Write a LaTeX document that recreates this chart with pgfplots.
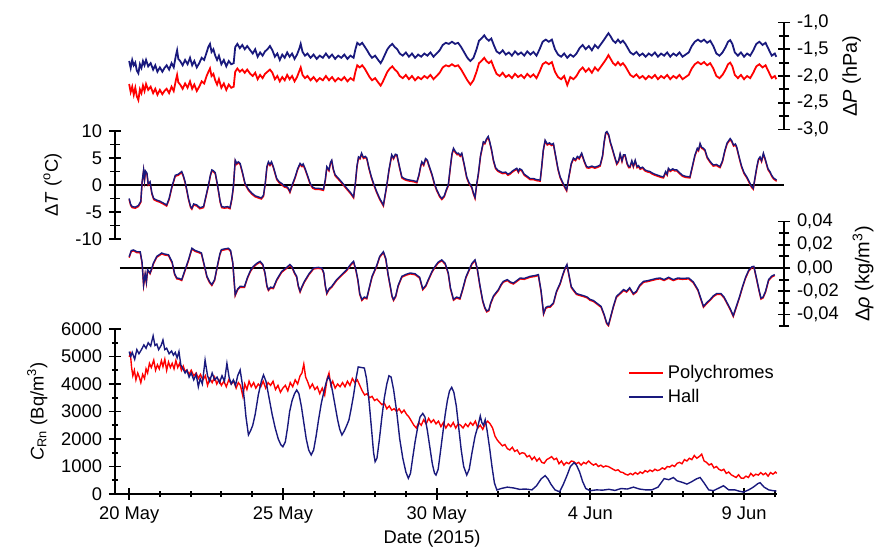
\documentclass[border=0pt]{standalone}
\usepackage{fontspec}
\setmainfont{Liberation Sans}
\usepackage{pgfplots}
\usepackage{pgfplotstable}
\pgfplotsset{compat=1.18}
\definecolor{navy}{RGB}{25,25,125}
\definecolor{rred}{RGB}{255,0,0}

\pgfplotstableread{
d Pb Pr
0.00 -1.72 -2.15
0.05 -1.85 -2.30
0.10 -1.70 -2.20
0.15 -1.80 -2.35
0.20 -1.75 -2.22
0.25 -1.90 -2.38
0.30 -1.95 -2.45
0.35 -1.78 -2.25
0.40 -1.85 -2.32
0.45 -1.72 -2.18
0.50 -1.80 -2.28
0.55 -1.70 -2.15
0.62 -1.82 -2.26
0.70 -1.76 -2.20
0.78 -1.88 -2.32
0.85 -1.80 -2.24
0.92 -1.92 -2.35
1.00 -1.84 -2.26
1.08 -1.92 -2.34
1.15 -1.85 -2.28
1.22 -1.80 -2.24
1.30 -1.88 -2.32
1.38 -1.76 -2.20
1.45 -1.84 -2.28
1.52 -1.62 -2.08
1.56 -1.52 -1.98
1.60 -1.68 -2.12
1.66 -1.72 -2.16
1.74 -1.80 -2.24
1.82 -1.70 -2.14
1.90 -1.78 -2.22
1.98 -1.66 -2.10
2.05 -1.80 -2.24
2.12 -1.72 -2.16
2.20 -1.84 -2.28
2.28 -1.76 -2.20
2.36 -1.66 -2.10
2.44 -1.70 -2.14
2.52 -1.56 -2.00
2.58 -1.45 -1.92
2.63 -1.40 -1.86
2.68 -1.55 -2.00
2.74 -1.50 -1.96
2.80 -1.62 -2.08
2.86 -1.70 -2.16
2.92 -1.62 -2.06
3.00 -1.78 -2.22
3.08 -1.70 -2.14
3.16 -1.82 -2.26
3.24 -1.72 -2.16
3.32 -1.78 -2.22
3.40 -1.76 -2.20
3.45 -1.46 -1.92
3.52 -1.40 -1.86
3.60 -1.48 -1.92
3.68 -1.42 -1.88
3.76 -1.50 -1.94
3.84 -1.44 -1.88
3.94 -1.52 -1.96
4.02 -1.58 -2.00
4.10 -1.50 -1.94
4.18 -1.64 -2.06
4.26 -1.56 -1.98
4.34 -1.62 -2.04
4.42 -1.54 -1.96
4.50 -1.50 -1.92
4.58 -1.44 -1.88
4.66 -1.52 -1.94
4.74 -1.64 -2.06
4.82 -1.58 -2.00
4.90 -1.70 -2.10
4.98 -1.60 -2.02
5.06 -1.66 -2.08
5.14 -1.56 -1.98
5.22 -1.64 -2.06
5.30 -1.58 -2.00
5.38 -1.68 -2.10
5.46 -1.60 -2.02
5.54 -1.48 -1.90
5.58 -1.40 -1.84
5.64 -1.55 -1.98
5.72 -1.62 -2.04
5.80 -1.58 -2.00
5.90 -1.66 -2.08
6.00 -1.60 -2.02
6.10 -1.68 -2.10
6.20 -1.62 -2.04
6.30 -1.66 -2.08
6.40 -1.58 -2.00
6.50 -1.66 -2.08
6.60 -1.60 -2.02
6.70 -1.68 -2.10
6.80 -1.62 -2.04
6.90 -1.66 -2.08
7.00 -1.60 -2.02
7.10 -1.68 -2.10
7.20 -1.62 -2.04
7.30 -1.66 -2.08
7.36 -1.50 -1.92
7.42 -1.38 -1.80
7.50 -1.42 -1.84
7.58 -1.38 -1.80
7.66 -1.45 -1.86
7.74 -1.52 -1.94
7.82 -1.60 -2.02
7.90 -1.66 -2.08
8.00 -1.62 -2.04
8.10 -1.70 -2.12
8.18 -1.76 -2.18
8.24 -1.70 -2.12
8.32 -1.60 -2.02
8.40 -1.50 -1.92
8.48 -1.44 -1.86
8.56 -1.40 -1.82
8.64 -1.46 -1.88
8.72 -1.50 -1.92
8.80 -1.58 -2.00
8.90 -1.62 -2.04
9.00 -1.56 -1.98
9.10 -1.64 -2.06
9.20 -1.58 -2.00
9.30 -1.66 -2.08
9.40 -1.60 -2.02
9.50 -1.64 -2.06
9.60 -1.58 -2.00
9.70 -1.62 -2.04
9.80 -1.56 -1.98
9.90 -1.64 -2.06
10.00 -1.58 -2.00
10.10 -1.52 -1.94
10.20 -1.42 -1.84
10.30 -1.38 -1.80
10.40 -1.40 -1.82
10.50 -1.36 -1.78
10.60 -1.40 -1.82
10.70 -1.38 -1.80
10.80 -1.46 -1.88
10.90 -1.56 -1.98
11.00 -1.66 -2.08
11.10 -1.72 -2.16
11.20 -1.66 -2.08
11.30 -1.50 -1.92
11.38 -1.34 -1.76
11.46 -1.30 -1.72
11.55 -1.24 -1.66
11.62 -1.30 -1.72
11.70 -1.34 -1.76
11.78 -1.30 -1.72
11.86 -1.42 -1.84
11.95 -1.54 -1.96
12.05 -1.58 -2.00
12.15 -1.52 -1.94
12.25 -1.60 -2.02
12.35 -1.56 -1.98
12.45 -1.62 -2.04
12.55 -1.54 -1.96
12.65 -1.60 -2.02
12.75 -1.56 -1.98
12.85 -1.62 -2.04
12.95 -1.54 -1.96
13.05 -1.60 -2.02
13.15 -1.55 -1.97
13.25 -1.62 -2.04
13.35 -1.50 -1.92
13.45 -1.36 -1.78
13.55 -1.32 -1.74
13.65 -1.36 -1.78
13.75 -1.32 -1.74
13.85 -1.50 -1.92
13.95 -1.60 -2.02
14.05 -1.64 -2.06
14.15 -1.58 -2.00
14.25 -1.66 -2.17
14.35 -1.60 -2.02
14.45 -1.64 -2.06
14.55 -1.58 -2.00
14.65 -1.48 -1.90
14.75 -1.42 -1.84
14.85 -1.50 -1.92
14.95 -1.44 -1.86
15.05 -1.52 -1.94
15.15 -1.42 -1.84
15.25 -1.48 -1.90
15.35 -1.40 -1.82
15.45 -1.32 -1.74
15.52 -1.26 -1.68
15.59 -1.20 -1.61
15.66 -1.26 -1.68
15.74 -1.34 -1.76
15.82 -1.38 -1.80
15.90 -1.32 -1.74
15.98 -1.38 -1.80
16.06 -1.34 -1.76
16.14 -1.40 -1.82
16.22 -1.48 -1.90
16.30 -1.56 -1.98
16.40 -1.60 -2.02
16.50 -1.55 -1.97
16.60 -1.62 -2.04
16.70 -1.58 -2.00
16.80 -1.64 -2.06
16.90 -1.58 -2.00
17.00 -1.62 -2.04
17.10 -1.56 -1.98
17.20 -1.64 -2.06
17.30 -1.58 -2.00
17.40 -1.62 -2.04
17.50 -1.56 -1.98
17.60 -1.64 -2.06
17.70 -1.58 -2.00
17.80 -1.62 -2.04
17.90 -1.56 -1.98
18.00 -1.64 -2.06
18.10 -1.60 -2.02
18.20 -1.56 -1.98
18.30 -1.44 -1.86
18.40 -1.36 -1.78
18.50 -1.32 -1.74
18.60 -1.36 -1.78
18.70 -1.32 -1.74
18.80 -1.38 -1.80
18.90 -1.34 -1.76
19.00 -1.44 -1.86
19.10 -1.58 -2.00
19.20 -1.62 -2.04
19.30 -1.56 -1.98
19.40 -1.46 -1.88
19.48 -1.36 -1.78
19.55 -1.33 -1.75
19.62 -1.40 -1.82
19.70 -1.56 -1.98
19.80 -1.62 -2.04
19.90 -1.56 -1.98
20.00 -1.64 -2.06
20.10 -1.58 -2.00
20.20 -1.62 -2.04
20.30 -1.52 -1.94
20.40 -1.40 -1.82
20.50 -1.36 -1.78
20.60 -1.42 -1.84
20.70 -1.38 -1.80
20.80 -1.50 -1.92
20.90 -1.62 -2.04
21.00 -1.58 -2.00
21.05 -1.64 -2.06
}\tabP

\pgfplotstableread{
d Tb Tr
0.00 -2.5 -2.7
0.05 -3.6 -3.8
0.10 -4.0 -4.2
0.20 -4.1 -4.3
0.30 -3.8 -4.0
0.38 -3.0 -3.2
0.42 0.5 0.3
0.47 2.8 2.6
0.50 1.0 0.8
0.53 2.6 2.4
0.58 2.2 2.0
0.62 0.2 0.0
0.68 0.6 0.4
0.74 -1.5 -1.7
0.80 -2.5 -2.7
0.90 -2.8 -3.0
1.00 -3.0 -3.2
1.10 -3.3 -3.5
1.22 -3.7 -3.9
1.30 -2.5 -2.7
1.39 -0.3 -0.5
1.50 1.8 1.6
1.60 2.0 1.8
1.71 2.5 2.3
1.76 1.8 1.6
1.82 0.6 0.4
1.88 -1.0 -1.2
1.93 -2.5 -2.7
2.00 -4.0 -4.2
2.04 -4.3 -4.5
2.10 -3.5 -3.7
2.20 -3.7 -3.9
2.30 -4.2 -4.4
2.42 -4.0 -4.2
2.50 -2.0 -2.2
2.58 0.0 -0.2
2.64 1.8 1.6
2.69 2.8 2.6
2.75 2.6 2.4
2.80 2.3 2.1
2.86 0.5 0.3
2.91 -1.2 -1.4
2.96 -3.0 -3.2
3.01 -4.0 -4.2
3.10 -4.1 -4.3
3.20 -4.0 -4.2
3.28 -4.2 -4.4
3.34 -2.5 -2.7
3.39 -0.3 -0.5
3.45 4.6 4.4
3.50 4.0 3.8
3.55 4.3 4.1
3.61 4.0 3.8
3.68 2.5 2.3
3.77 0.3 0.1
3.88 -0.8 -1.0
3.99 -1.5 -1.7
4.10 -2.0 -2.2
4.20 -2.2 -2.4
4.30 -2.4 -2.6
4.37 -1.9 -2.1
4.43 0.5 0.3
4.48 3.4 3.2
4.53 4.3 4.1
4.58 3.8 3.6
4.63 4.3 4.1
4.69 3.4 3.2
4.75 2.2 2.0
4.80 1.2 1.0
4.88 0.6 0.4
4.96 0.3 0.1
5.05 -0.2 -0.4
5.13 -0.3 -0.5
5.18 -0.6 -0.8
5.23 -1.2 -1.4
5.30 0.0 -0.2
5.40 1.5 1.3
5.48 3.0 2.8
5.56 4.0 3.8
5.62 3.6 3.4
5.66 3.9 3.7
5.72 3.1 2.9
5.80 1.8 1.6
5.89 0.3 0.1
5.97 -0.4 -0.6
6.05 -0.6 -0.8
6.15 -0.6 -0.8
6.25 -0.7 -0.9
6.32 -0.8 -1.0
6.38 1.0 0.8
6.43 3.4 3.2
6.50 2.8 2.6
6.55 4.2 4.0
6.59 4.6 4.4
6.64 3.0 2.8
6.70 1.9 1.7
6.78 1.4 1.2
6.86 0.9 0.7
6.95 0.3 0.1
7.08 -0.6 -0.8
7.20 -1.4 -1.6
7.30 -2.2 -2.4
7.36 0.5 0.3
7.41 3.5 3.3
7.46 5.2 5.0
7.51 5.0 4.8
7.56 5.9 5.7
7.62 5.1 4.9
7.68 5.3 5.1
7.73 5.0 4.8
7.80 3.2 3.0
7.88 1.5 1.3
7.95 0.3 0.1
8.05 -1.2 -1.4
8.15 -2.5 -2.7
8.27 -3.7 -3.9
8.32 -2.0 -2.2
8.38 0.0 -0.2
8.45 2.8 2.6
8.54 5.6 5.4
8.60 5.0 4.8
8.66 5.7 5.5
8.71 5.6 5.4
8.79 3.5 3.3
8.87 1.5 1.3
8.95 1.2 1.0
9.05 1.0 0.8
9.14 0.9 0.7
9.25 0.8 0.6
9.36 0.6 0.4
9.43 2.0 1.8
9.48 3.5 3.3
9.52 4.3 4.1
9.58 3.8 3.6
9.64 4.9 4.7
9.70 4.6 4.4
9.76 3.5 3.3
9.85 2.0 1.8
9.93 0.3 0.1
10.00 -0.8 -1.0
10.10 -2.0 -2.2
10.17 -2.5 -2.7
10.25 -2.0 -2.2
10.32 -0.8 -1.0
10.38 0.0 -0.2
10.45 3.5 3.3
10.50 5.8 5.6
10.55 6.8 6.6
10.61 6.2 6.0
10.67 5.8 5.6
10.71 5.9 5.7
10.77 5.5 5.3
10.82 5.9 5.7
10.90 3.8 3.6
10.98 1.5 1.3
11.05 0.5 0.3
11.14 -0.3 -0.5
11.20 -1.5 -1.7
11.25 -2.3 -2.5
11.30 0.0 -0.2
11.36 2.2 2.0
11.43 5.5 5.3
11.52 8.0 7.8
11.57 7.8 7.6
11.62 8.5 8.3
11.68 9.0 8.8
11.73 8.0 7.8
11.79 6.5 6.3
11.85 4.6 4.4
11.92 3.2 3.0
12.00 2.7 2.5
12.07 2.5 2.3
12.15 2.3 2.1
12.25 2.4 2.2
12.32 2.0 1.8
12.39 2.2 2.0
12.47 2.6 2.4
12.55 2.9 2.7
12.61 3.1 2.9
12.66 2.5 2.3
12.70 3.0 2.8
12.77 2.8 2.6
12.85 2.0 1.8
12.95 1.6 1.4
13.04 1.2 1.0
13.15 1.2 1.0
13.25 1.0 0.8
13.37 0.9 0.7
13.42 3.5 3.3
13.47 6.5 6.3
13.53 8.3 8.1
13.60 7.6 7.4
13.67 7.8 7.6
13.74 7.5 7.3
13.80 7.7 7.5
13.87 5.5 5.3
13.95 3.0 2.8
14.02 1.5 1.3
14.10 0.5 0.3
14.17 -0.3 -0.5
14.23 -0.9 -1.1
14.30 1.5 1.3
14.38 4.0 3.8
14.45 5.0 4.8
14.52 4.7 4.5
14.58 5.3 5.1
14.64 5.0 4.8
14.72 5.9 5.7
14.80 4.5 4.3
14.88 3.4 3.2
14.95 3.3 3.1
15.05 3.5 3.3
15.15 3.3 3.1
15.25 3.5 3.3
15.32 3.7 3.5
15.40 5.5 5.3
15.45 8.0 7.8
15.50 9.7 9.5
15.54 9.9 9.7
15.60 9.3 9.1
15.65 8.0 7.8
15.70 7.1 6.9
15.78 5.5 5.3
15.86 4.0 3.8
15.92 4.5 4.3
15.97 5.8 5.6
16.03 4.5 4.3
16.08 5.6 5.4
16.13 5.6 5.4
16.20 4.0 3.8
16.25 3.4 3.2
16.29 3.4 3.2
16.35 4.5 4.3
16.40 3.5 3.3
16.46 4.6 4.4
16.52 3.4 3.2
16.57 3.6 3.4
16.62 3.1 2.9
16.70 3.3 3.1
16.78 2.8 2.6
16.86 2.6 2.4
16.94 2.5 2.3
17.02 2.2 2.0
17.10 2.0 1.8
17.20 1.8 1.6
17.30 1.6 1.4
17.38 1.5 1.3
17.45 2.5 2.3
17.50 2.0 1.8
17.54 3.1 2.9
17.60 2.7 2.5
17.68 3.0 2.8
17.74 2.8 2.6
17.81 2.8 2.6
17.90 2.3 2.1
18.00 1.8 1.6
18.10 1.6 1.4
18.24 1.5 1.3
18.32 3.5 3.3
18.40 5.5 5.3
18.48 6.8 6.6
18.52 6.5 6.3
18.57 7.7 7.5
18.62 7.0 6.8
18.68 6.8 6.6
18.73 6.5 6.3
18.80 5.2 5.0
18.88 4.5 4.3
18.95 4.0 3.8
19.00 3.7 3.5
19.10 3.8 3.6
19.22 3.4 3.2
19.30 4.5 4.3
19.38 6.5 6.3
19.45 7.8 7.6
19.50 8.2 8.0
19.55 8.6 8.4
19.60 8.2 8.0
19.66 7.4 7.2
19.72 7.6 7.4
19.76 7.1 6.9
19.85 5.0 4.8
19.92 3.5 3.3
20.00 2.3 2.1
20.09 1.5 1.3
20.18 0.5 0.3
20.24 -0.2 -0.4
20.30 -0.6 -0.8
20.36 1.5 1.3
20.42 3.5 3.3
20.47 4.8 4.6
20.52 5.2 5.0
20.57 4.5 4.3
20.63 5.9 5.7
20.68 5.0 4.8
20.72 4.2 4.0
20.78 3.0 2.8
20.84 2.5 2.3
20.90 1.8 1.6
20.96 1.3 1.1
21.06 0.9 0.7
}\tabT

\pgfplotstableread{
d Rb Rr
0.00 0.0097 0.0089
0.07 0.0150 0.0142
0.14 0.0155 0.0147
0.25 0.0140 0.0132
0.36 0.0140 0.0132
0.42 0.0050 0.0042
0.47 -0.0143 -0.0151
0.52 -0.0050 -0.0058
0.56 -0.0120 -0.0128
0.60 -0.0014 -0.0022
0.68 -0.0043 -0.0051
0.74 0.0000 -0.0008
0.79 0.0043 0.0035
0.90 0.0100 0.0092
1.06 0.0129 0.0121
1.15 0.0120 0.0112
1.28 0.0114 0.0106
1.40 0.0050 0.0042
1.48 -0.0050 -0.0058
1.55 -0.0086 -0.0094
1.63 -0.0090 -0.0098
1.71 -0.0100 -0.0108
1.80 -0.0030 -0.0038
1.93 0.0070 0.0062
2.04 0.0170 0.0162
2.15 0.0150 0.0142
2.26 0.0140 0.0132
2.35 0.0130 0.0122
2.45 0.0020 0.0012
2.53 -0.0072 -0.0080
2.62 -0.0120 -0.0128
2.69 -0.0143 -0.0151
2.78 -0.0100 -0.0108
2.87 0.0020 0.0012
2.95 0.0120 0.0112
3.00 0.0158 0.0150
3.12 0.0165 0.0157
3.23 0.0170 0.0162
3.30 0.0150 0.0142
3.37 0.0050 0.0042
3.45 -0.0230 -0.0238
3.53 -0.0180 -0.0188
3.61 -0.0158 -0.0166
3.75 -0.0160 -0.0168
3.85 -0.0080 -0.0088
3.95 -0.0020 -0.0028
4.04 0.0014 0.0006
4.15 0.0040 0.0032
4.26 0.0057 0.0049
4.35 0.0030 0.0022
4.42 -0.0043 -0.0051
4.48 -0.0150 -0.0158
4.53 -0.0186 -0.0194
4.60 -0.0165 -0.0173
4.69 -0.0170 -0.0178
4.80 -0.0100 -0.0108
4.96 -0.0030 -0.0038
5.10 0.0000 -0.0008
5.23 0.0030 0.0022
5.30 0.0010 0.0002
5.38 -0.0040 -0.0048
5.45 -0.0072 -0.0080
5.50 -0.0150 -0.0158
5.56 -0.0200 -0.0208
5.62 -0.0160 -0.0168
5.70 -0.0115 -0.0123
5.85 -0.0050 -0.0058
6.00 0.0000 -0.0008
6.15 0.0005 -0.0003
6.27 0.0000 -0.0008
6.33 -0.0040 -0.0048
6.38 -0.0150 -0.0158
6.43 -0.0215 -0.0223
6.50 -0.0180 -0.0188
6.59 -0.0158 -0.0166
6.75 -0.0100 -0.0108
6.90 -0.0060 -0.0068
7.08 -0.0014 -0.0022
7.20 0.0030 0.0022
7.30 0.0057 0.0049
7.38 -0.0020 -0.0028
7.44 -0.0100 -0.0108
7.50 -0.0220 -0.0228
7.57 -0.0272 -0.0280
7.65 -0.0250 -0.0258
7.73 -0.0258 -0.0266
7.80 -0.0180 -0.0188
7.90 -0.0072 -0.0080
8.05 0.0020 0.0012
8.15 0.0100 0.0092
8.27 0.0140 0.0132
8.35 0.0080 0.0072
8.42 -0.0050 -0.0058
8.49 -0.0150 -0.0158
8.55 -0.0240 -0.0248
8.60 -0.0272 -0.0280
8.67 -0.0240 -0.0248
8.75 -0.0150 -0.0158
8.87 -0.0072 -0.0080
9.00 -0.0055 -0.0063
9.14 -0.0043 -0.0051
9.30 -0.0050 -0.0058
9.45 -0.0080 -0.0088
9.55 -0.0180 -0.0188
9.65 -0.0150 -0.0158
9.73 -0.0100 -0.0108
9.85 -0.0030 -0.0038
9.95 0.0014 0.0006
10.05 0.0050 0.0042
10.17 0.0070 0.0062
10.28 0.0040 0.0032
10.38 -0.0043 -0.0051
10.45 -0.0170 -0.0178
10.55 -0.0270 -0.0278
10.65 -0.0250 -0.0258
10.76 -0.0260 -0.0268
10.85 -0.0180 -0.0188
10.95 -0.0080 -0.0088
11.03 -0.0030 -0.0038
11.15 0.0040 0.0032
11.25 0.0070 0.0062
11.32 0.0000 -0.0008
11.41 -0.0150 -0.0158
11.50 -0.0280 -0.0288
11.57 -0.0340 -0.0348
11.63 -0.0370 -0.0378
11.70 -0.0360 -0.0368
11.76 -0.0300 -0.0308
11.85 -0.0240 -0.0248
12.01 -0.0186 -0.0194
12.10 -0.0140 -0.0148
12.17 -0.0115 -0.0123
12.30 -0.0100 -0.0108
12.40 -0.0120 -0.0128
12.50 -0.0130 -0.0138
12.60 -0.0110 -0.0118
12.72 -0.0086 -0.0094
12.85 -0.0090 -0.0098
13.04 -0.0072 -0.0080
13.20 -0.0065 -0.0073
13.31 -0.0057 -0.0065
13.40 -0.0200 -0.0208
13.48 -0.0390 -0.0398
13.55 -0.0340 -0.0348
13.62 -0.0330 -0.0338
13.69 -0.0330 -0.0338
13.80 -0.0300 -0.0308
13.90 -0.0200 -0.0208
14.02 -0.0130 -0.0138
14.10 -0.0060 -0.0068
14.18 0.0000 -0.0008
14.24 0.0030 0.0022
14.30 -0.0050 -0.0058
14.38 -0.0160 -0.0168
14.45 -0.0186 -0.0194
14.55 -0.0220 -0.0228
14.67 -0.0230 -0.0238
14.80 -0.0240 -0.0248
14.90 -0.0250 -0.0258
14.99 -0.0270 -0.0278
15.10 -0.0280 -0.0288
15.20 -0.0300 -0.0308
15.35 -0.0330 -0.0338
15.45 -0.0400 -0.0408
15.53 -0.0470 -0.0478
15.59 -0.0490 -0.0498
15.66 -0.0420 -0.0428
15.75 -0.0330 -0.0338
15.85 -0.0244 -0.0252
15.95 -0.0220 -0.0228
16.08 -0.0186 -0.0194
16.18 -0.0200 -0.0208
16.28 -0.0170 -0.0178
16.40 -0.0220 -0.0228
16.50 -0.0200 -0.0208
16.60 -0.0150 -0.0158
16.73 -0.0115 -0.0123
16.85 -0.0110 -0.0118
17.00 -0.0100 -0.0108
17.15 -0.0090 -0.0098
17.27 -0.0086 -0.0094
17.40 -0.0100 -0.0108
17.55 -0.0080 -0.0088
17.70 -0.0100 -0.0108
17.85 -0.0086 -0.0094
18.00 -0.0090 -0.0098
18.20 -0.0086 -0.0094
18.35 -0.0120 -0.0128
18.50 -0.0186 -0.0194
18.58 -0.0250 -0.0258
18.68 -0.0330 -0.0338
18.78 -0.0300 -0.0308
18.90 -0.0270 -0.0278
19.00 -0.0240 -0.0248
19.11 -0.0220 -0.0228
19.25 -0.0220 -0.0228
19.35 -0.0250 -0.0258
19.45 -0.0300 -0.0308
19.55 -0.0350 -0.0358
19.65 -0.0410 -0.0418
19.75 -0.0330 -0.0338
19.85 -0.0250 -0.0258
19.95 -0.0160 -0.0168
20.05 -0.0080 -0.0088
20.15 -0.0020 -0.0028
20.25 0.0010 0.0002
20.32 0.0014 0.0006
20.40 -0.0080 -0.0088
20.48 -0.0180 -0.0188
20.55 -0.0260 -0.0268
20.62 -0.0250 -0.0258
20.70 -0.0200 -0.0208
20.80 -0.0100 -0.0108
20.90 -0.0070 -0.0078
21.00 -0.0057 -0.0065
}\tabR

\pgfplotstableread{
d C
0.00 5175
0.05 5000
0.10 5150
0.18 4900
0.25 5250
0.32 5100
0.40 5250
0.48 5420
0.55 5300
0.62 5500
0.70 5380
0.78 5750
0.84 5400
0.90 5450
0.96 5250
1.04 5400
1.10 5600
1.16 5250
1.22 5300
1.30 5100
1.38 5200
1.44 5050
1.50 5150
1.56 4950
1.62 5180
1.68 4700
1.75 4550
1.82 4400
1.88 4500
1.95 4250
2.02 4400
2.10 4150
2.18 4350
2.25 3900
2.31 4200
2.38 4000
2.47 4870
2.55 4300
2.62 4100
2.70 4400
2.78 4150
2.86 4250
2.94 4050
3.02 4300
3.10 4100
3.18 4750
3.25 4250
3.32 4000
3.39 4150
3.46 3950
3.53 4300
3.61 4510
3.68 4000
3.74 3500
3.80 2800
3.88 2150
3.95 2300
4.02 2500
4.10 2900
4.20 3600
4.30 4100
4.37 4330
4.45 4100
4.55 3500
4.65 2900
4.75 2400
4.85 2000
4.93 1800
5.00 1720
5.08 1900
5.15 2400
5.22 3000
5.30 3400
5.38 3650
5.45 3780
5.52 3650
5.60 3200
5.68 2600
5.76 2000
5.84 1600
5.92 1420
6.00 1600
6.08 2100
6.16 2700
6.25 3300
6.35 3800
6.42 4100
6.48 4270
6.55 4100
6.62 3700
6.70 3200
6.78 2700
6.85 2350
6.92 2145
7.00 2300
7.08 2500
7.15 2700
7.22 3100
7.30 3600
7.38 4200
7.45 4620
7.55 4600
7.65 4580
7.72 4200
7.80 3400
7.88 2400
7.95 1500
8.00 1175
8.06 1300
8.14 2000
8.22 2800
8.30 3500
8.38 4000
8.45 4300
8.52 4250
8.60 3800
8.70 3000
8.80 2000
8.90 1300
9.00 800
9.08 570
9.15 750
9.22 1300
9.30 1900
9.38 2400
9.46 2800
9.55 2930
9.62 2800
9.70 2300
9.78 1700
9.86 1100
9.93 760
9.98 690
10.05 900
10.12 1500
10.20 2200
10.28 2900
10.35 3400
10.42 3750
10.49 3880
10.56 3700
10.64 3200
10.72 2400
10.80 1600
10.88 1000
10.98 690
11.06 900
11.15 1500
11.25 2100
11.35 2500
11.42 2836
11.47 2600
11.52 2500
11.58 2700
11.64 2320
11.72 1700
11.80 1000
11.88 400
11.96 145
12.10 200
12.30 250
12.50 220
12.70 170
12.90 180
13.10 150
13.25 300
13.40 550
13.53 667
13.62 550
13.72 350
13.85 150
14.00 80
14.12 350
14.25 700
14.35 1000
14.47 1140
14.55 1050
14.65 800
14.75 450
14.85 200
14.99 120
15.20 150
15.40 140
15.60 170
15.80 130
16.00 200
16.20 180
16.40 250
16.60 180
16.80 150
17.00 150
17.20 250
17.40 560
17.55 520
17.70 600
17.82 480
18.00 420
18.14 360
18.30 450
18.45 550
18.57 600
18.70 400
18.85 150
19.00 120
19.15 200
19.33 300
19.50 150
19.70 150
19.85 100
19.98 70
20.15 150
20.30 250
20.45 380
20.52 410
20.65 250
20.80 150
20.95 120
21.05 110
}\tabCb

\pgfplotstableread{
d C
0.00 4990
0.04 5100
0.08 4600
0.12 4300
0.17 4500
0.22 4150
0.28 4400
0.33 4250
0.38 4050
0.44 4350
0.50 4200
0.55 4550
0.60 4400
0.66 4750
0.72 4600
0.80 4870
0.86 4500
0.92 4700
0.98 4550
1.05 4850
1.10 4630
1.16 4900
1.22 4500
1.28 4800
1.34 4600
1.40 4750
1.46 4550
1.52 4850
1.58 4600
1.64 4750
1.70 4500
1.76 4650
1.82 4450
1.88 4510
1.95 4350
2.02 4500
2.10 4300
2.18 4400
2.25 4200
2.32 4350
2.40 4150
2.48 4300
2.55 3950
2.62 4200
2.70 4050
2.78 4250
2.85 4000
2.92 4150
3.00 3950
3.08 4100
3.16 3900
3.24 4150
3.32 4000
3.40 4100
3.48 3850
3.55 4050
3.62 3950
3.70 3550
3.76 4000
3.83 3800
3.90 4100
3.97 3900
4.05 4050
4.12 3850
4.20 4000
4.28 3900
4.36 4100
4.44 3850
4.52 4050
4.60 3950
4.68 4100
4.76 3800
4.84 3950
4.92 3700
5.00 3850
5.08 3950
5.16 3750
5.24 4050
5.32 3900
5.40 4150
5.48 4000
5.56 4300
5.62 4400
5.68 4720
5.74 4250
5.80 4100
5.88 3850
5.96 4000
6.04 3800
6.12 3900
6.20 3650
6.28 3850
6.36 3600
6.44 4200
6.50 4400
6.56 3950
6.62 4100
6.70 3850
6.78 4000
6.86 3900
6.94 4050
7.02 3900
7.10 4100
7.18 3950
7.26 4200
7.34 4050
7.42 4150
7.50 3950
7.58 3750
7.66 3600
7.74 3650
7.82 3500
7.90 3550
7.98 3400
8.06 3450
8.14 3350
8.22 3250
8.30 3300
8.38 3100
8.46 3200
8.54 3050
8.62 3100
8.70 3000
8.78 3100
8.86 2950
8.94 3050
9.02 2900
9.10 2800
9.18 2650
9.26 2500
9.34 2400
9.42 2600
9.50 2500
9.58 2700
9.66 2550
9.74 2750
9.82 2600
9.90 2700
9.98 2550
10.06 2650
10.14 2450
10.22 2600
10.30 2400
10.38 2550
10.46 2450
10.54 2600
10.62 2400
10.70 2550
10.78 2500
10.86 2400
10.94 2550
11.02 2450
11.10 2600
11.18 2500
11.26 2650
11.34 2400
11.42 2500
11.50 2350
11.58 2550
11.66 2650
11.74 2550
11.82 2400
11.90 2100
11.98 1950
12.06 1850
12.14 1750
12.22 1800
12.30 1650
12.38 1600
12.46 1700
12.54 1550
12.62 1600
12.70 1450
12.78 1500
12.86 1480
12.94 1350
13.02 1400
13.10 1250
13.18 1350
13.26 1200
13.34 1300
13.42 1150
13.50 1120
13.58 1250
13.66 1300
13.74 1360
13.82 1250
13.90 1300
13.98 1100
14.06 1200
14.14 1050
14.22 1150
14.30 1100
14.38 1200
14.46 1175
14.54 1100
14.62 1150
14.70 1050
14.78 1150
14.86 1100
14.94 1200
15.02 1115
15.10 1050
15.18 1100
15.26 1000
15.34 1050
15.42 980
15.50 1020
15.58 1000
15.66 950
15.74 900
15.82 850
15.90 880
15.98 800
16.06 780
16.14 720
16.22 690
16.30 750
16.38 700
16.46 780
16.54 720
16.62 800
16.70 750
16.78 850
16.86 800
16.94 870
17.02 820
17.10 900
17.18 850
17.26 880
17.34 950
17.42 900
17.50 1000
17.58 980
17.66 1050
17.74 1000
17.82 1115
17.90 1150
17.98 1100
18.06 1250
18.14 1200
18.22 1300
18.30 1250
18.38 1400
18.46 1300
18.54 1360
18.62 1450
18.70 1200
18.78 1150
18.86 1055
18.94 1100
19.02 950
19.10 1000
19.18 900
19.26 850
19.34 900
19.42 750
19.50 800
19.58 700
19.66 650
19.74 600
19.82 700
19.90 580
19.98 570
20.06 650
20.14 600
20.22 750
20.30 650
20.38 720
20.46 690
20.54 780
20.62 700
20.70 760
20.78 650
20.86 780
20.94 720
21.02 800
21.06 750
}\tabCr

\begin{document}
\begin{tikzpicture}
\pgfplotsset{
  base/.style={
    scale only axis, anchor=south west,
    xmin=-0.46,
    tick align=inside,
    major tick length=6bp, minor tick length=5bp,
    every tick/.style={black, line width=0.9pt},
    axis line style={-, line width=0.9pt, black},
    tick label style={font=\fontsize{9.2}{11}\selectfont},
    label style={font=\fontsize{9.2}{11}\selectfont},
    /pgf/number format/assume math mode=true,
    scaled y ticks=false,
  },
  noarrows/.style={
    every outer x axis line/.append style={-},
    every outer y axis line/.append style={-},
    every inner x axis line/.append style={-},
    every inner y axis line/.append style={-},
    axis line style={-},
  },
}
% Panel 1: Delta P
\begin{axis}[base, at={(57.5bp,210.25bp)}, width=334.5bp, height=53.5bp,
  xmax=21.30, ymin=-3, ymax=-1,
  axis x line=none, axis y line=right,
  ytick={-3,-2.5,-2,-1.5,-1}, minor y tick num=1,
  yticklabel style={/pgf/number format/.cd, fixed, fixed zerofill, precision=1, use comma},
  ylabel={Δ\textit{P} (hPa)}, noarrows]
\addplot[rred, line width=0.9pt] table[x=d, y=Pr] {\tabP};
\addplot[navy, line width=0.9pt] table[x=d, y=Pb] {\tabP};
\end{axis}
% Panel 2: Delta T
\begin{axis}[base, at={(57.5bp,155.5bp)}, width=334.5bp, height=54bp,
  xmax=21.30, ymin=-10, ymax=10,
  axis x line=none, axis y line=left,
  ytick={-10,-5,0,5,10}, minor y tick num=1,
  ylabel={Δ\textit{T} (\textsuperscript{o}C)}, noarrows]
\addplot[black, line width=0.9pt] coordinates {(-0.46,0) (21.30,0)};
\addplot[rred, line width=0.7pt] table[x=d, y=Tr] {\tabT};
\addplot[navy, line width=0.7pt] table[x=d, y=Tb] {\tabT};
\end{axis}
% Panel 3: Delta rho
\begin{axis}[base, at={(57.5bp,111.95bp)}, width=334.5bp, height=52.3bp,
  xmax=21.30, ymin=-0.05, ymax=0.04,
  axis x line=none, axis y line=right,
  ytick={-0.04,-0.02,0,0.02,0.04}, minor ytick={-0.05,-0.03,-0.01,0.01,0.03},
  yticklabel style={/pgf/number format/.cd, fixed, fixed zerofill, precision=2, use comma},
  ylabel={Δ\textit{ρ} (kg/m\textsuperscript{3})}, noarrows]
\addplot[black, line width=0.9pt] coordinates {(-0.3,0) (21.30,0)};
\addplot[rred, line width=0.7pt] table[x=d, y=Rr] {\tabR};
\addplot[navy, line width=0.7pt] table[x=d, y=Rb] {\tabR};
\end{axis}
% Panel 4: C_Rn
\begin{axis}[base, at={(57.5bp,28bp)}, width=331bp, height=82.5bp,
  xmax=21.07, ymin=0, ymax=6000,
  axis x line=bottom, axis y line=left,
  major tick length=6bp, minor tick length=3.2bp,
  xtick={0,5,10,15,20}, xticklabels={20 May,25 May,30 May,4 Jun,9 Jun},
  minor xtick={1,2,3,4,6,7,8,9,11,12,13,14,16,17,18,19,21},
  ytick={0,1000,2000,3000,4000,5000,6000}, minor y tick num=1,
  yticklabel style={/pgf/number format/1000 sep={}},
  xlabel={Date (2015)},
  xlabel style={yshift=3.5bp, xshift=-7bp},
  ylabel={\textit{C}\textsubscript{Rn} (Bq/m\textsuperscript{3})},
  legend style={draw=none, fill=none, at={(0.775,0.81)}, anchor=north west,
    font=\fontsize{9.2}{11}\selectfont, inner sep=0pt, row sep=0pt},
  legend cell align=left,
  legend image code/.code={\draw[#1] (0bp,0bp) -- (17bp,0bp);}, noarrows]
\addplot[rred, line width=0.7pt] table[x=d, y=C] {\tabCr};
\addlegendentry{Polychromes}
\addplot[navy, line width=0.7pt] table[x=d, y=C] {\tabCb};
\addlegendentry{Hall}
\end{axis}
\pgfresetboundingbox
\useasboundingbox (0,0) rectangle (439bp,275bp);
\end{tikzpicture}
\end{document}
